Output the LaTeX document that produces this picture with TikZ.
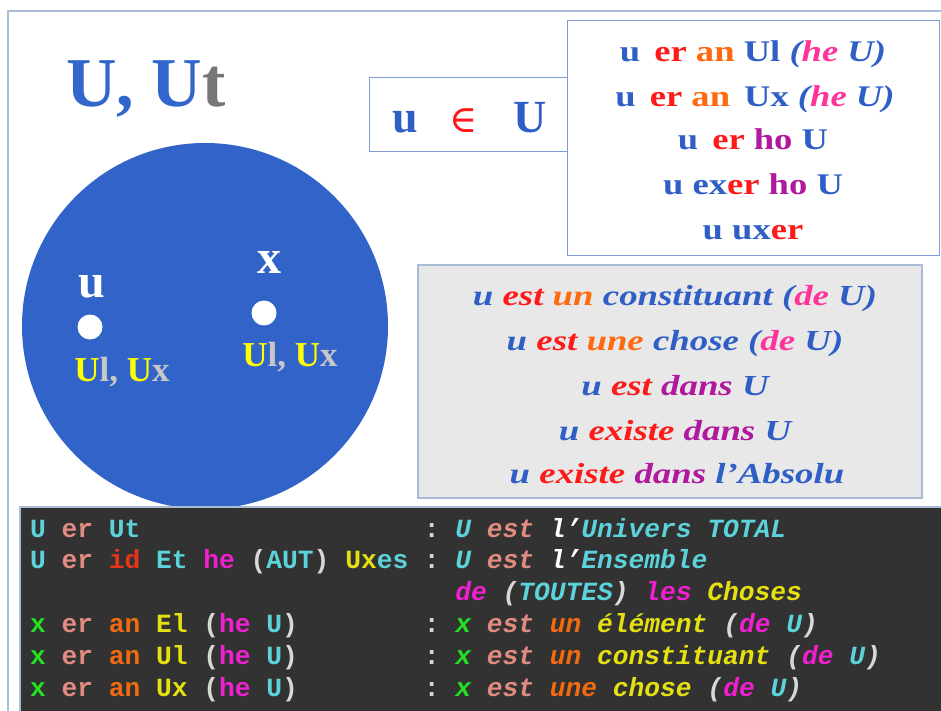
\documentclass[tikz,border=0pt]{standalone}
\usepackage{fontspec}
\setmainfont{Liberation Serif}
\setmonofont{Liberation Mono}
\newfontfamily\wideA[FakeStretch=1.22]{Liberation Serif}
\newfontfamily\wideB[FakeStretch=1.27]{Liberation Serif}
\newfontfamily\symfont{DejaVu Serif}
\definecolor{framecol}{HTML}{A9BCD6}
\definecolor{ublue}{HTML}{2F5FC6}
\definecolor{titleblue}{HTML}{3366CC}
\definecolor{tgrey}{HTML}{767676}
\definecolor{circblue}{HTML}{3163C9}
\definecolor{ured}{HTML}{FF1A1A}
\definecolor{uorange}{HTML}{FF6A10}
\definecolor{upink}{HTML}{FF3399}
\definecolor{upurple}{HTML}{B0189E}
\definecolor{cyel}{HTML}{FFFF00}
\definecolor{cgrey}{HTML}{C8C8C8}
\definecolor{bgdark}{HTML}{323232}
\definecolor{dcyan}{HTML}{5CD2DA}
\definecolor{dsalmon}{HTML}{E28B80}
\definecolor{dred}{HTML}{E8341A}
\definecolor{dmag}{HTML}{F020D0}
\definecolor{dgrey}{HTML}{D8D8D8}
\definecolor{dyel}{HTML}{E5E010}
\definecolor{dgreen}{HTML}{22E022}
\definecolor{dorange}{HTML}{F06A10}
\definecolor{greybox}{HTML}{E8E8E8}
\definecolor{boxline}{HTML}{7E9CD4}
\newcommand{\cB}[1]{\textcolor{ublue}{#1}}
\newcommand{\cR}[1]{\textcolor{ured}{#1}}
\newcommand{\cO}[1]{\textcolor{uorange}{#1}}
\newcommand{\cP}[1]{\textcolor{upink}{#1}}
\newcommand{\cM}[1]{\textcolor{upurple}{#1}}
\newcommand{\dC}[1]{\textcolor{dcyan}{#1}}
\newcommand{\dS}[1]{\textcolor{dsalmon}{#1}}
\newcommand{\dR}[1]{\textcolor{dred}{#1}}
\newcommand{\dM}[1]{\textcolor{dmag}{#1}}
\newcommand{\dG}[1]{\textcolor{dgrey}{#1}}
\newcommand{\dY}[1]{\textcolor{dyel}{#1}}
\newcommand{\dN}[1]{\textcolor{dgreen}{#1}}
\newcommand{\dO}[1]{\textcolor{dorange}{#1}}
\newcommand{\dW}[1]{\textcolor{white}{#1}}
\begin{document}
\begin{tikzpicture}[x=1pt,y=-1pt,
  rline/.style={anchor=base,inner sep=0pt,font=\wideA\bfseries\fontsize{30}{30}\selectfont},
  gline/.style={anchor=base,inner sep=0pt,font=\wideB\bfseries\itshape\fontsize{29}{29}\selectfont},
  dline/.style={anchor=base west,inner sep=0pt,font=\ttfamily\bfseries\fontsize{26.25}{26.25}\selectfont},
  dlineit/.style={dline,font=\ttfamily\bfseries\itshape\fontsize{26.25}{26.25}\selectfont},
  clabel/.style={anchor=base,inner sep=0pt,font=\bfseries\fontsize{35}{35}\selectfont},
  uinlabel/.style={anchor=base,inner sep=0pt,font=\bfseries\fontsize{46}{46}\selectfont},
  dot/.style={circle,fill=white,inner sep=0pt,minimum size=25pt}]
\useasboundingbox (0,0) rectangle (941,711);
\clip (0,0) rectangle (941,711);
\fill[white] (0,0) rectangle (941,711);
% outer frame
\draw[framecol,line width=1.6pt] (8,11) rectangle (970,740);
% title
\node[anchor=base west,inner sep=0pt,font=\bfseries\fontsize{70}{70}\selectfont] (title) at (66,107)
  {\textcolor{titleblue}{U, U}\textcolor{tgrey}{t}};
% circle
\fill[circblue] (205,326) circle[radius=183pt];
\node[dot] (du) at (90,327) {};
\node[dot] (dx) at (264,313) {};
\node[anchor=base,inner sep=0pt,font=\bfseries\fontsize{48}{48}\selectfont,text=white] (lu) at (92,297) {u};
\node[anchor=base,inner sep=0pt,font=\bfseries\fontsize{48}{48}\selectfont,text=white] (lx) at (269,273) {x};
\node[clabel] (ulu) at (122,381) {\textcolor{cyel}{U}\textcolor{cgrey}{l,} \textcolor{cyel}{U}\textcolor{cgrey}{x}};
\node[clabel] (ulx) at (290,366) {\textcolor{cyel}{U}\textcolor{cgrey}{l,} \textcolor{cyel}{U}\textcolor{cgrey}{x}};
% u in U box
\draw[boxline,line width=0.9pt,fill=white] (369,77) rectangle (580,151);
\node[uinlabel,text=ublue] (uu) at (405,133) {u};
\node[anchor=base,inner sep=0pt,font=\symfont\fontsize{38}{38}\selectfont,text=ured] (uin) at (464,133) {∈};
\node[uinlabel,text=ublue] (uU) at (530,133) {U};
% top right box
\draw[boxline,line width=0.9pt,fill=white] (567,20) rectangle (939,255);
\node[rline] (r1) at (753,62) {\cB{u}\hspace{14pt}\cR{er} \cO{an} \cB{Ul} {\itshape\cB{(}\cP{he} \cB{U)}}};
\node[rline] (r2) at (755,107) {\cB{u}\hspace{14pt}\cR{er} \cO{an}\hspace{14pt}\cB{Ux} {\itshape\cB{(}\cP{he} \cB{U)}}};
\node[rline] (r3) at (753,150) {\cB{u}\hspace{14pt}\cR{er} \cM{ho} \cB{U}};
\node[rline] (r4) at (753,195) {\cB{u ex}\cR{er} \cM{ho} \cB{U}};
\node[rline] (r5) at (753,240) {\cB{u ux}\cR{er}};
% grey box
\draw[framecol,line width=1.2pt,fill=greybox] (418,265) rectangle (922,498);
\node[gline] (g1) at (675,305) {\cB{u} \cR{est} \cO{un} \cB{constituant} \cB{(}\cP{de} \cB{U)}};
\node[gline] (g2) at (675,350) {\cB{u} \cR{est} \cO{une} \cB{chose} \cB{(}\cP{de} \cB{U)}};
\node[gline] (g3) at (675,395) {\cB{u} \cR{est} \cM{dans} \cB{U}};
\node[gline] (g4) at (675,440) {\cB{u} \cR{existe} \cM{dans} \cB{U}};
\node[gline] (g5) at (677,483) {\cB{u} \cR{existe} \cM{dans} \cB{l’Absolu}};
% dark box
\draw[framecol,line width=1.2pt,fill=bgdark] (20,507) rectangle (970,740);
\node[dline] (a1) at (30,537) {\dC{U} \dS{er} \dC{Ut}};
\node[dline] (a2) at (30,568.8) {\dC{U} \dS{er} \dR{id} \dC{Et} \dM{he} \dG{(}\dC{AUT}\dG{)} \dY{Ux}\dC{es}};
\node[dline] (a4) at (30,632.4) {\dN{x} \dS{er} \dO{an} \dY{El} \dG{(}\dM{he} \dC{U}\dG{)}};
\node[dline] (a5) at (30,664.2) {\dN{x} \dS{er} \dO{an} \dY{Ul} \dG{(}\dM{he} \dC{U}\dG{)}};
\node[dline] (a6) at (30,696) {\dN{x} \dS{er} \dO{an} \dY{Ux} \dG{(}\dM{he} \dC{U}\dG{)}};
\foreach \yy/\nm in {537/c1,568.8/c2,632.4/c4,664.2/c5,696/c6}
  \node[dline] (\nm) at (423.75,\yy) {\dG{:}};
\node[dlineit] (b1) at (455.25,537) {\dC{U} \dS{est} \dW{l’}\dC{Univers TOTAL}};
\node[dlineit] (b2) at (455.25,568.8) {\dC{U} \dS{est} \dW{l’}\dC{Ensemble}};
\node[dlineit] (b3) at (455.25,600.6) {\dM{de} \dG{(}\dC{TOUTES}\dG{)} \dM{les} \dY{Choses}};
\node[dlineit] (b4) at (455.25,632.4) {\dN{x} \dS{est} \dO{un} \dY{élément} \dG{(}\dM{de} \dC{U}\dG{)}};
\node[dlineit] (b5) at (455.25,664.2) {\dN{x} \dS{est} \dO{un} \dY{constituant} \dG{(}\dM{de} \dC{U}\dG{)}};
\node[dlineit] (b6) at (455.25,696) {\dN{x} \dS{est} \dO{une} \dY{chose} \dG{(}\dM{de} \dC{U}\dG{)}};
\end{tikzpicture}
\end{document}
